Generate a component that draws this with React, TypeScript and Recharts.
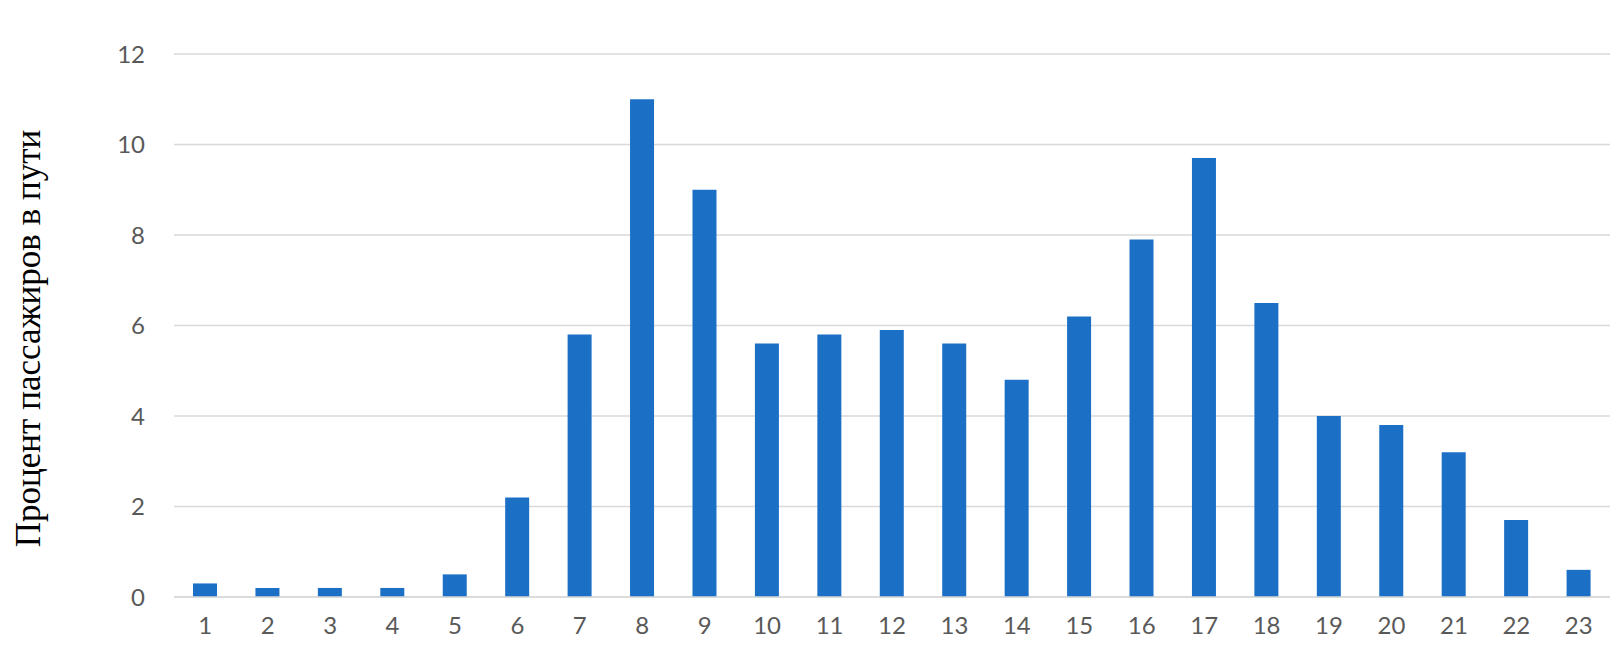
import React from 'react';
import { BarChart, Bar, XAxis, YAxis, CartesianGrid, Label } from 'recharts';

const hours = ['1', '2', '3', '4', '5', '6', '7', '8', '9', '10', '11', '12', '13', '14', '15', '16', '17', '18', '19', '20', '21', '22', '23'];
const passengerShare = [0.3, 0.2, 0.2, 0.2, 0.5, 2.2, 5.8, 11, 9, 5.6, 5.8, 5.9, 5.6, 4.8, 6.2, 7.9, 9.7, 6.5, 4, 3.8, 3.2, 1.7, 0.6];
const yTicks = [0, 2, 4, 6, 8, 10, 12];
const yTitle = 'Процент пассажиров в пути';

const data = hours.map((h, i) => ({ hour: h, value: passengerShare[i] }));

const tickStyle = { fontFamily: 'Lato, sans-serif', fontSize: 24, fill: '#595959' };

const YTitle = (props: any) => {
  const vb = props.viewBox || {};
  const cx = 28;
  const cy = vb.y + vb.height / 2 + 13;
  return (
    <text
      x={cx}
      y={cy}
      transform={`rotate(-90 ${cx} ${cy})`}
      textAnchor="middle"
      dominantBaseline="central"
      style={{ fontFamily: '"Liberation Serif", "Times New Roman", serif', fontSize: 35, fill: '#000' }}
    >
      {yTitle}
    </text>
  );
};

export default function App() {
  return (
    <div style={{ position: 'absolute', left: 0, top: 0, background: '#fff' }}>
      <BarChart width={1621} height={668} data={data} margin={{ top: 54, right: 11, bottom: 0, left: 0 }}>
        <CartesianGrid vertical={false} stroke="#d9d9d9" strokeWidth={1.5} />
        <XAxis
          dataKey="hour"
          height={71}
          tickLine={false}
          tickSize={0}
          tickMargin={20}
          axisLine={{ stroke: '#d9d9d9', strokeWidth: 1.5 }}
          tick={tickStyle}
          interval={0}
        />
        <YAxis
          width={174}
          domain={[0, 12]}
          ticks={yTicks}
          axisLine={false}
          tickLine={false}
          tickSize={0}
          tickMargin={29}
          tick={tickStyle}
        >
          <Label content={<YTitle />} />
        </YAxis>
        <Bar dataKey="value" fill="#1b70c6" barSize={24} isAnimationActive={false} />
      </BarChart>
    </div>
  );
}
